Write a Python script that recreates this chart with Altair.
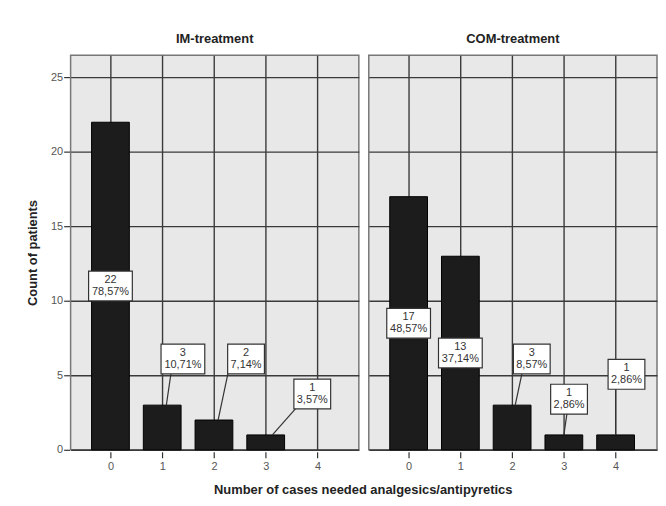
import altair as alt
import pandas as pd

# ---- data ----
groups = ["IM-treatment", "COM-treatment"]
categories = [0, 1, 2, 3, 4]
im_counts = [22, 3, 2, 1, 0]
com_counts = [17, 13, 3, 1, 1]
im_pct = ["78,57%", "10,71%", "7,14%", "3,57%", ""]
com_pct = ["48,57%", "37,14%", "8,57%", "2,86%", "2,86%"]

# label box centres (data units) as placed in the picture
im_label_x = [0.0, 1.40, 2.62, 3.90, None]
im_label_y = [11.0, 6.1, 6.1, 3.75, None]
com_label_x = [0.0, 1.0, 2.38, 3.10, 4.21]
com_label_y = [8.5, 6.5, 6.1, 3.4, 5.07]

# leader lines (start on bar top, end at the box centre, hidden behind box)
im_lead_x0 = [None, 1.08, 2.08, 3.13, None]
im_lead_x1 = [None, 1.21, 2.33, 3.83, None]
com_lead_x0 = [None, None, 2.06, 3.0, 4.0]
com_lead_x1 = [None, None, 2.25, 3.10, 4.0]

rows = []
for g, counts, pcts, lx, ly, l0, l1 in [
    (groups[0], im_counts, im_pct, im_label_x, im_label_y, im_lead_x0, im_lead_x1),
    (groups[1], com_counts, com_pct, com_label_x, com_label_y, com_lead_x0, com_lead_x1),
]:
    for i, c in enumerate(categories):
        rows.append({
            "group": g,
            "cases": c,
            "count": counts[i],
            "n_txt": str(counts[i]) if counts[i] > 0 else "",
            "pct_txt": pcts[i],
            "lx": lx[i],
            "ly": ly[i],
            "l0": l0[i],
            "l1": l1[i],
            "has_lead": l0[i] is not None,
            "wide": len(pcts[i]) >= 6,
        })
df = pd.DataFrame(rows)

xscale = alt.Scale(domain=[-0.77, 4.8], nice=False, zero=False, padding=0)
yscale = alt.Scale(domain=[0, 26.5], nice=False, padding=0)

xaxis = alt.Axis(values=categories, format="d", title=None, grid=True,
                 gridColor="#3a3a3a", gridWidth=1.4, domain=False,
                 tickColor="#333", tickSize=6, tickWidth=1.2,
                 labelColor="#555", labelFontSize=11, labelPadding=3,
                 labelFont="Liberation Sans")
yaxis = alt.Axis(values=[0, 5, 10, 15, 20, 25], title="Count of patients",
                 grid=True, gridColor="#3a3a3a", gridWidth=1.4, domain=False,
                 tickColor="#333", tickSize=6, tickWidth=1.2,
                 labelColor="#555", labelFontSize=11, labelPadding=1,
                 minExtent=22, maxExtent=22, titlePadding=8,
                 titleFontSize=13, titleFontWeight="bold", titleColor="#222",
                 titleFont="Liberation Sans", labelFont="Liberation Sans")

base = alt.Chart(df)

bars = base.mark_bar(size=38, color="#1c1c1c", stroke="#000", strokeWidth=1).encode(
    x=alt.X("cases:Q", scale=xscale, axis=xaxis),
    y=alt.Y("count:Q", scale=yscale, axis=yaxis),
).transform_filter("datum.count > 0")

leads = base.mark_rule(color="#333", strokeWidth=1.2).encode(
    x=alt.X("l0:Q", scale=xscale),
    y=alt.Y("count:Q", scale=yscale),
    x2="l1:Q",
    y2="ly:Q",
).transform_filter("datum.has_lead")

box_wide = base.mark_rect(fill="white", stroke="#333", strokeWidth=1.2,
                          xOffset=-22, x2Offset=22, yOffset=-15, y2Offset=15).encode(
    x=alt.X("lx:Q", scale=xscale), x2="lx:Q",
    y=alt.Y("ly:Q", scale=yscale), y2="ly:Q",
).transform_filter("datum.count > 0 && datum.wide")

box_narrow = base.mark_rect(fill="white", stroke="#333", strokeWidth=1.2,
                            xOffset=-18.5, x2Offset=18.5, yOffset=-15, y2Offset=15).encode(
    x=alt.X("lx:Q", scale=xscale), x2="lx:Q",
    y=alt.Y("ly:Q", scale=yscale), y2="ly:Q",
).transform_filter("datum.count > 0 && !datum.wide")

txt_n = base.mark_text(fontSize=11, font="Liberation Sans", color="#333",
                       baseline="middle", dy=-6).encode(
    x=alt.X("lx:Q", scale=xscale), y=alt.Y("ly:Q", scale=yscale), text="n_txt:N"
).transform_filter("datum.count > 0")

txt_p = base.mark_text(fontSize=11, font="Liberation Sans", color="#333",
                       baseline="middle", dy=6).encode(
    x=alt.X("lx:Q", scale=xscale), y=alt.Y("ly:Q", scale=yscale), text="pct_txt:N"
).transform_filter("datum.count > 0")

layered = alt.layer(bars, leads, box_wide, box_narrow, txt_n, txt_p).properties(
    width=290, height=397
)

chart = layered.facet(
    column=alt.Column("group:N", sort=groups, title=None,
                      header=alt.Header(labelFontSize=13, labelFontWeight="bold",
                                        labelColor="#222", labelFont="Liberation Sans",
                                        labelPadding=8)),
    spacing=8,
).properties(
    title=alt.Title("Number of cases needed analgesics/antipyretics",
                    orient="bottom", anchor="middle", dx=21,
                    fontSize=13, fontWeight="bold", color="#222",
                    font="Liberation Sans", offset=12)
).configure_view(
    stroke="#777", strokeWidth=1.5, fill="#e8e8e8"
).properties(
    padding={"left": 19, "top": 24, "right": 0, "bottom": 5},
    background="white"
)

chart.save("out.html", embed_options={"renderer": "svg", "actions": False})
